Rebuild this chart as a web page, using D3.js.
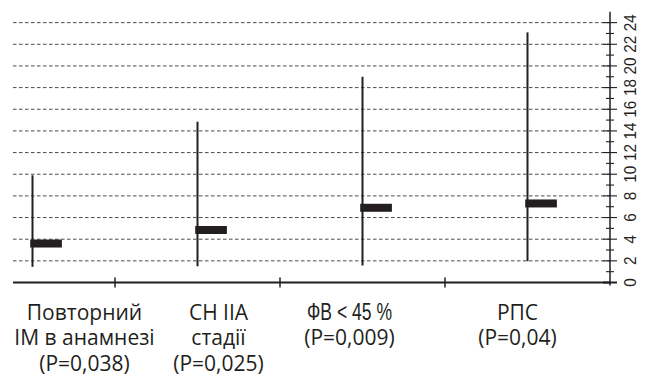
<!DOCTYPE html>
<html><head><meta charset="utf-8">
<script src="https://cdn.jsdelivr.net/npm/d3@7"></script>
<style>
body{margin:0;background:#fff;}
svg{display:block;}
.ytl{font-family:"Liberation Sans",Arial,sans-serif;font-size:17px;}
.cat{font-family:"Open Sans",sans-serif;font-size:21px;}
.cond{font-family:"Liberation Sans",Arial,sans-serif;font-size:24px;}
</style></head>
<body>
<svg id="chart" width="649" height="377"></svg>
<script>
// ---- data ----
const categories = ["Повторний ІМ в анамнезі", "СН ІІА стадії", "ФВ < 45 %", "РПС"];
const labelLines = [
  ["Повторний", "ІМ в анамнезі", "(P=0,038)"],
  ["СН ІІА", "стадії", "(P=0,025)"],
  ["ФВ < 45 %", "(P=0,009)"],
  ["РПС", "(P=0,04)"]
];
const estimate = [3.6, 4.85, 6.9, 7.3];
const lower = [1.45, 1.5, 1.57, 1.97];
const upper = [9.9, 14.85, 19.0, 23.1];
const yTickLabels = [0, 2, 4, 6, 8, 10, 12, 14, 16, 18, 20, 22, 24];

// ---- layout ----
const svg = d3.select("#chart");
const axisX = 610, plotLeft = 13;
const x = d3.scaleBand().domain(categories).range([-50, axisX]);
const y = d3.scaleLinear().domain([0, 25]).range([282.5, 11.8]);
const cx = c => x(c) + x.bandwidth() / 2;
const dark = "#231f20";

// gridlines
svg.append("g").selectAll("line").data(yTickLabels.filter(v => v > 0)).join("line")
  .attr("x1", plotLeft).attr("x2", axisX)
  .attr("y1", d => y(d)).attr("y2", d => y(d))
  .attr("stroke", "#4a4a4a").attr("stroke-width", 1).attr("stroke-dasharray", "3.5,2.5");

// x axis line
svg.append("line").attr("x1", plotLeft).attr("x2", axisX)
  .attr("y1", y(0)).attr("y2", y(0)).attr("stroke", dark).attr("stroke-width", 2.2);
// x ticks at band boundaries
svg.append("g").selectAll("line").data(categories.slice(1)).join("line")
  .attr("x1", d => x(d)).attr("x2", d => x(d))
  .attr("y1", y(0) - 5).attr("y2", y(0) + 5)
  .attr("stroke", dark).attr("stroke-width", 1.5);

// y axis (right) with minor and major ticks
const yAxis = svg.append("g");
yAxis.append("line").attr("x1", axisX).attr("x2", axisX)
  .attr("y1", y(0) + 3).attr("y2", y(25)).attr("stroke", dark).attr("stroke-width", 1.5);
const allTicks = d3.range(0, 25);
yAxis.selectAll("line.t").data(allTicks).join("line").attr("class", "t")
  .attr("x1", d => axisX - (d % 2 === 0 ? 7 : 4)).attr("x2", d => axisX + (d % 2 === 0 ? 7 : 4))
  .attr("y1", d => y(d)).attr("y2", d => y(d))
  .attr("stroke", dark).attr("stroke-width", d => d === 0 ? 2 : 1.1);
yAxis.selectAll("text").data(yTickLabels).join("text")
  .attr("class", "ytl")
  .attr("transform", d => `translate(636,${y(d)}) rotate(-90) scale(0.9,1)`)
  .attr("text-anchor", "middle")
  .attr("fill", dark)
  .text(d => d);

// CI lines
svg.append("g").selectAll("line").data(categories).join("line")
  .attr("x1", d => cx(d)).attr("x2", d => cx(d))
  .attr("y1", (d, i) => y(lower[i])).attr("y2", (d, i) => y(upper[i]))
  .attr("stroke", dark).attr("stroke-width", 2);

// estimate bars
svg.append("g").selectAll("rect").data(categories).join("rect")
  .attr("x", d => cx(d) - 2.3).attr("width", 31.7)
  .attr("y", (d, i) => y(estimate[i]) - 4).attr("height", 8)
  .attr("fill", dark);

// category labels
const labelOffset = [52, 21, -13, -10];
const lg = svg.append("g");
labelLines.forEach((lines, i) => {
  lines.forEach((ln, j) => {
    const t = lg.append("text")
      .attr("class", ln.startsWith("ФВ") ? "cond" : "cat")
      .attr("text-anchor", "middle")
      .attr("x", cx(categories[i]) + labelOffset[i])
      .attr("y", 319.5 + j * 25.5)
      .attr("fill", dark)
      .text(ln);
    if (ln.startsWith("ФВ")) {
      t.attr("textLength", 85).attr("lengthAdjust", "spacingAndGlyphs");
    }
  });
});
</script>
</body></html>
